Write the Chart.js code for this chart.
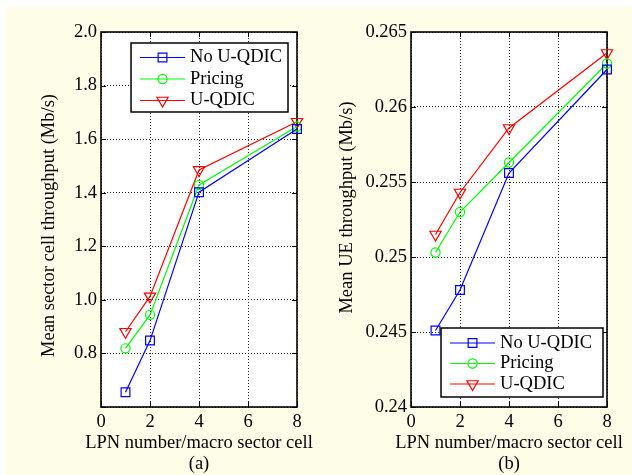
<!DOCTYPE html>
<html>
<head>
<meta charset="utf-8">
<script src="https://cdn.jsdelivr.net/npm/chart.js@4.4.1/dist/chart.umd.min.js"></script>
<style>
    html, body { margin: 0; padding: 0; background: #fff; }
    #page { position: relative; width: 632px; height: 475px; overflow: hidden; background: #fff; }
    #paper { position: absolute; left: 6px; top: 7px; right: 0; bottom: 0; background: #fefde8; }
    .panel { position: absolute; top: 0; width: 316px; height: 475px; }
</style>
</head>
<body>
<div id="page">
    <div id="paper"></div>
    <div class="panel" style="left:0"><canvas id="sectorChart" width="316" height="475"></canvas></div>
    <div class="panel" style="left:316px"><canvas id="ueChart" width="316" height="475"></canvas></div>
</div>
<script>
// LPNs per macro sector cell
const lpnCounts = [1, 2, 4, 8];
const xTickValues = [0, 2, 4, 6, 8];

const seriesNames = ['No U-QDIC', 'Pricing', 'U-QDIC'];

// (a) mean sector cell throughput, Mb/s
const sectorNoQdic = [0.655, 0.848, 1.402, 1.638];
const sectorPricing = [0.819, 0.944, 1.429, 1.647];
const sectorQdic = [0.881, 1.013, 1.485, 1.665];
const sectorTickValues = [0.6, 0.8, 1.0, 1.2, 1.4, 1.6, 1.8, 2.0];
const sectorTickLabels = ['', '0.8', '1.0', '1.2', '1.4', '1.6', '1.8', '2.0'];

// (b) mean UE throughput, Mb/s
const ueNoQdic = [0.2451, 0.2478, 0.2556, 0.2625];
const uePricing = [0.2503, 0.2530, 0.2563, 0.2629];
const ueQdic = [0.2515, 0.2543, 0.2586, 0.2636];
const ueTickValues = [0.24, 0.245, 0.25, 0.255, 0.26, 0.265];
const ueTickLabels = ['0.24', '0.245', '0.25', '0.255', '0.26', '0.265'];

const xTitle = 'LPN number/macro sector cell';

const serifFont = '"Times New Roman", "Liberation Serif", serif';
const fontSize = 18.5;

const seriesStyles = [
    { color: '#0000ff', pointStyle: 'rect', radius: 6.2, rotation: 0 },
    { color: '#00ff00', pointStyle: 'circle', radius: 4.6, rotation: 0 },
    { color: '#ff0000', pointStyle: 'triangle', radius: 6.5, rotation: 180 }
];

Chart.defaults.font.family = serifFont;
Chart.defaults.font.size = fontSize;
Chart.defaults.color = '#000';

// white plot area, box frame and inward tick marks
const plotFrame = {
    id: 'plotFrame',
    beforeDraw(chart) {
        const { ctx, chartArea: a } = chart;
        ctx.save();
        ctx.fillStyle = '#fff';
        ctx.fillRect(a.left, a.top, a.width, a.height);
        ctx.restore();
    },
    beforeDatasetsDraw(chart) {
        const { ctx, chartArea: a, scales } = chart;
        const len = 5;
        ctx.save();
        ctx.strokeStyle = '#000';
        ctx.lineWidth = 1;
        ctx.beginPath();
        scales.x.ticks.forEach(t => {
            const px = Math.round(scales.x.getPixelForValue(t.value)) + 0.5;
            ctx.moveTo(px, a.bottom); ctx.lineTo(px, a.bottom - len);
            ctx.moveTo(px, a.top); ctx.lineTo(px, a.top + len);
        });
        scales.y.ticks.forEach(t => {
            const py = Math.round(scales.y.getPixelForValue(t.value)) + 0.5;
            ctx.moveTo(a.left, py); ctx.lineTo(a.left + len, py);
            ctx.moveTo(a.right, py); ctx.lineTo(a.right - len, py);
        });
        ctx.stroke();
        ctx.lineWidth = 1.6;
        ctx.strokeRect(a.left, a.top, a.width, a.height);
        ctx.restore();
    }
};

// axis titles drawn at full width (the built-in title squeezes long text)
const axisCaptions = {
    id: 'axisCaptions',
    afterDraw(chart, args, opts) {
        const { ctx, chartArea: a } = chart;
        ctx.save();
        ctx.font = fontSize + 'px ' + serifFont;
        ctx.fillStyle = '#000';
        ctx.textAlign = 'center';
        ctx.textBaseline = 'middle';
        const cx = (a.left + a.right) / 2;
        opts.xLines.forEach((t, i) => {
            ctx.fillText(t, cx, a.bottom + opts.xFirst + i * opts.xStep);
        });
        ctx.translate(opts.yX, (a.top + a.bottom) / 2 + opts.yShift);
        ctx.rotate(-Math.PI / 2);
        ctx.fillText(opts.yText, 0, 0);
        ctx.restore();
    }
};

// boxed legend placed inside the plot area
const boxLegend = {
    id: 'boxLegend',
    afterDraw(chart, args, opts) {
        const { ctx, chartArea: a } = chart;
        const sets = chart.data.datasets;
        ctx.save();
        ctx.font = fontSize + 'px ' + serifFont;
        const textW = Math.max(...sets.map(d => ctx.measureText(d.label).width));
        const w = opts.padLeft + opts.sample + opts.gap + textW + opts.padRight;
        const h = opts.height;
        const left = opts.anchor.includes('e') ? a.right - opts.inset[0] - w : a.left + opts.inset[0];
        const top = opts.anchor.includes('n') ? a.top + opts.inset[1] : a.bottom - opts.inset[1] - h;
        ctx.fillStyle = '#fff';
        ctx.fillRect(left, top, w, h);
        ctx.strokeStyle = '#000';
        ctx.lineWidth = 1.5;
        ctx.strokeRect(left, top, w, h);
        sets.forEach((ds, i) => {
            const y = top + opts.firstRow + i * opts.rowStep;
            const x0 = left + opts.padLeft;
            ctx.strokeStyle = ds.borderColor;
            ctx.lineWidth = ds.borderWidth;
            ctx.beginPath();
            ctx.moveTo(x0, y);
            ctx.lineTo(x0 + opts.sample, y);
            ctx.stroke();
            ctx.fillStyle = 'rgba(0,0,0,0)';
            ctx.lineWidth = ds.pointBorderWidth;
            Chart.helpers.drawPoint(ctx, {
                pointStyle: ds.pointStyle,
                radius: ds.pointRadius,
                rotation: ds.pointRotation,
                borderWidth: ds.pointBorderWidth
            }, x0 + opts.sample / 2, y);
            ctx.fillStyle = '#000';
            ctx.textAlign = 'left';
            ctx.textBaseline = 'middle';
            ctx.fillText(ds.label, x0 + opts.sample + opts.gap, y);
        });
        ctx.restore();
    }
};

function makeDatasets(seriesList) {
    return seriesList.map((vals, i) => {
        const st = seriesStyles[i];
        return {
            label: seriesNames[i],
            data: lpnCounts.map((x, j) => ({ x: x, y: vals[j] })),
            borderColor: st.color,
            backgroundColor: 'rgba(0,0,0,0)',
            borderWidth: 1.2,
            pointStyle: st.pointStyle,
            pointRadius: st.radius,
            pointHoverRadius: st.radius,
            pointRotation: st.rotation,
            pointBorderWidth: 1.2,
            pointBorderColor: st.color,
            pointBackgroundColor: 'rgba(0,0,0,0)',
            tension: 0,
            fill: false,
            clip: false
        };
    });
}

function draw_panel(canvasId, datasets, cfg) {
    const ctx = document.getElementById(canvasId).getContext('2d');
    return new Chart(ctx, {
        type: 'line',
        data: { datasets: datasets },
        options: {
            responsive: false,
            animation: false,
            devicePixelRatio: 1,
            layout: { padding: { left: 0, top: 32, right: cfg.padRight, bottom: 0 } },
            plugins: {
                legend: { display: false },
                tooltip: { enabled: false },
                boxLegend: cfg.legend,
                axisCaptions: {
                    xLines: [xTitle, cfg.caption],
                    xFirst: 36,
                    xStep: 21.5,
                    yText: cfg.yTitle,
                    yX: cfg.yTitleX,
                    yShift: cfg.yTitleShift
                }
            },
            scales: {
                x: {
                    type: 'linear',
                    min: 0,
                    max: 8,
                    afterBuildTicks: scale => { scale.ticks = xTickValues.map(v => ({ value: v })); },
                    afterFit: scale => { scale.height = 68; },
                    ticks: { padding: 4, callback: v => String(v), maxRotation: 0 },
                    grid: { color: '#222', lineWidth: 1, drawTicks: false },
                    border: { display: false, dash: [1, 2] }
                },
                y: {
                    type: 'linear',
                    min: cfg.yTicks[0],
                    max: cfg.yTicks[cfg.yTicks.length - 1],
                    afterBuildTicks: scale => { scale.ticks = cfg.yTicks.map(v => ({ value: v })); },
                    afterFit: scale => { scale.width = cfg.yWidth; },
                    ticks: { padding: 4, callback: (v, i) => cfg.yLabels[i] },
                    grid: { color: '#222', lineWidth: 1, drawTicks: false },
                    border: { display: false, dash: [1, 2] }
                }
            }
        },
        plugins: [plotFrame, axisCaptions, boxLegend]
    });
}

draw_panel('sectorChart', makeDatasets([sectorNoQdic, sectorPricing, sectorQdic]), {
    caption: '(a)',
    yTitle: 'Mean sector cell throughput (Mb/s)',
    yTitleX: 49,
    yTitleShift: 6,
    yTicks: sectorTickValues,
    yLabels: sectorTickLabels,
    yWidth: 101,
    padRight: 19,
    legend: { anchor: 'ne', inset: [9, 11], padLeft: 9, padRight: 6, sample: 45, gap: 5, height: 69, firstRow: 14.5, rowStep: 21.5 }
});

draw_panel('ueChart', makeDatasets([ueNoQdic, uePricing, ueQdic]), {
    caption: '(b)',
    yTitle: 'Mean UE throughput (Mb/s)',
    yTitleX: 31,
    yTitleShift: -12,
    yTicks: ueTickValues,
    yLabels: ueTickLabels,
    yWidth: 95,
    padRight: 25,
    legend: { anchor: 'se', inset: [4, 10], padLeft: 9, padRight: 11, sample: 45, gap: 5, height: 69, firstRow: 15, rowStep: 20.5 }
});
</script>
</body>
</html>
